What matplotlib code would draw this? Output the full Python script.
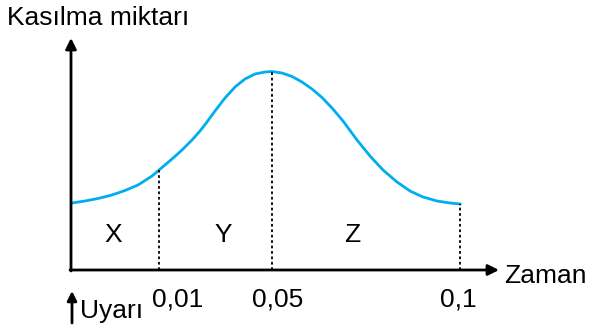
import matplotlib
matplotlib.use("Agg")
import matplotlib.pyplot as plt

# Eğri noktaları (şematik eksen birimleri)
curve_x = [1, 14, 27, 41, 54, 67, 81, 88, 101, 111, 121, 129, 136, 144, 154, 164,
           174, 184, 194, 201, 211, 221, 231, 241, 251, 261, 272, 286, 299,
           312, 326, 339, 352, 366, 379, 389]
curve_y = [67, 69, 71.5, 75, 79.5, 85, 94, 100, 111, 120, 130, 139, 148, 159, 172,
           183, 191, 196, 198, 198.5, 197, 193.5, 188, 181, 172.5, 162, 149, 130,
           114, 100, 88, 79, 73, 69, 67, 66]

# Sınırlar ve etiketler
boundary_x = [88, 201, 389]
boundary_y = [100, 198.5, 66]
tick_labels = ["0,01", "0,05", "0,1"]
tick_label_x = [81, 181, 369]
region_labels = ["X", "Y", "Z"]
region_x = [42, 152, 281]

plt.rcParams["font.family"] = ["Liberation Sans", "DejaVu Sans"]

fig = plt.figure(figsize=(5.9, 3.34), dpi=100)
ax = fig.add_axes([0, 0, 1, 1])
ax.set_xlim(-71, 519)
ax.set_ylim(-64, 270)
ax.axis("off")

# Eksenler (oklu)
ax.annotate("", xy=(0, 232), xytext=(0, -1),
            arrowprops=dict(arrowstyle="-|>", color="black", lw=2,
                            mutation_scale=16, shrinkA=0, shrinkB=0))
ax.annotate("", xy=(428, 0), xytext=(-1, 0),
            arrowprops=dict(arrowstyle="-|>", color="black", lw=2,
                            mutation_scale=16, shrinkA=0, shrinkB=0))

# Kasılma eğrisi
ax.plot(curve_x, curve_y, color="#00aeef", lw=2, solid_joinstyle="round")

# Noktalı dikey çizgiler
for bx, by in zip(boundary_x, boundary_y):
    ax.plot([bx, bx], [0, by], color="black", lw=1.3, linestyle=(0, (1.5, 1.5)))

for lbl, tx in zip(tick_labels, tick_label_x):
    ax.text(tx, -37, lbl, fontsize=19, ha="left", va="baseline")

for lbl, rx in zip(region_labels, region_x):
    ax.text(rx, 28, lbl, fontsize=19, ha="center", va="baseline")

ax.text(-64, 245, "Kasılma miktarı", fontsize=19, ha="left", va="baseline")
ax.text(433, -13, "Zaman", fontsize=19, ha="left", va="baseline")

# Uyarı oku
ax.annotate("", xy=(1, -21), xytext=(1, -53),
            arrowprops=dict(arrowstyle="-|>", color="black", lw=2,
                            mutation_scale=14, shrinkA=0, shrinkB=0))
ax.text(9, -48, "Uyarı", fontsize=19, ha="left", va="baseline")

fig.savefig("out.png", dpi=100)
